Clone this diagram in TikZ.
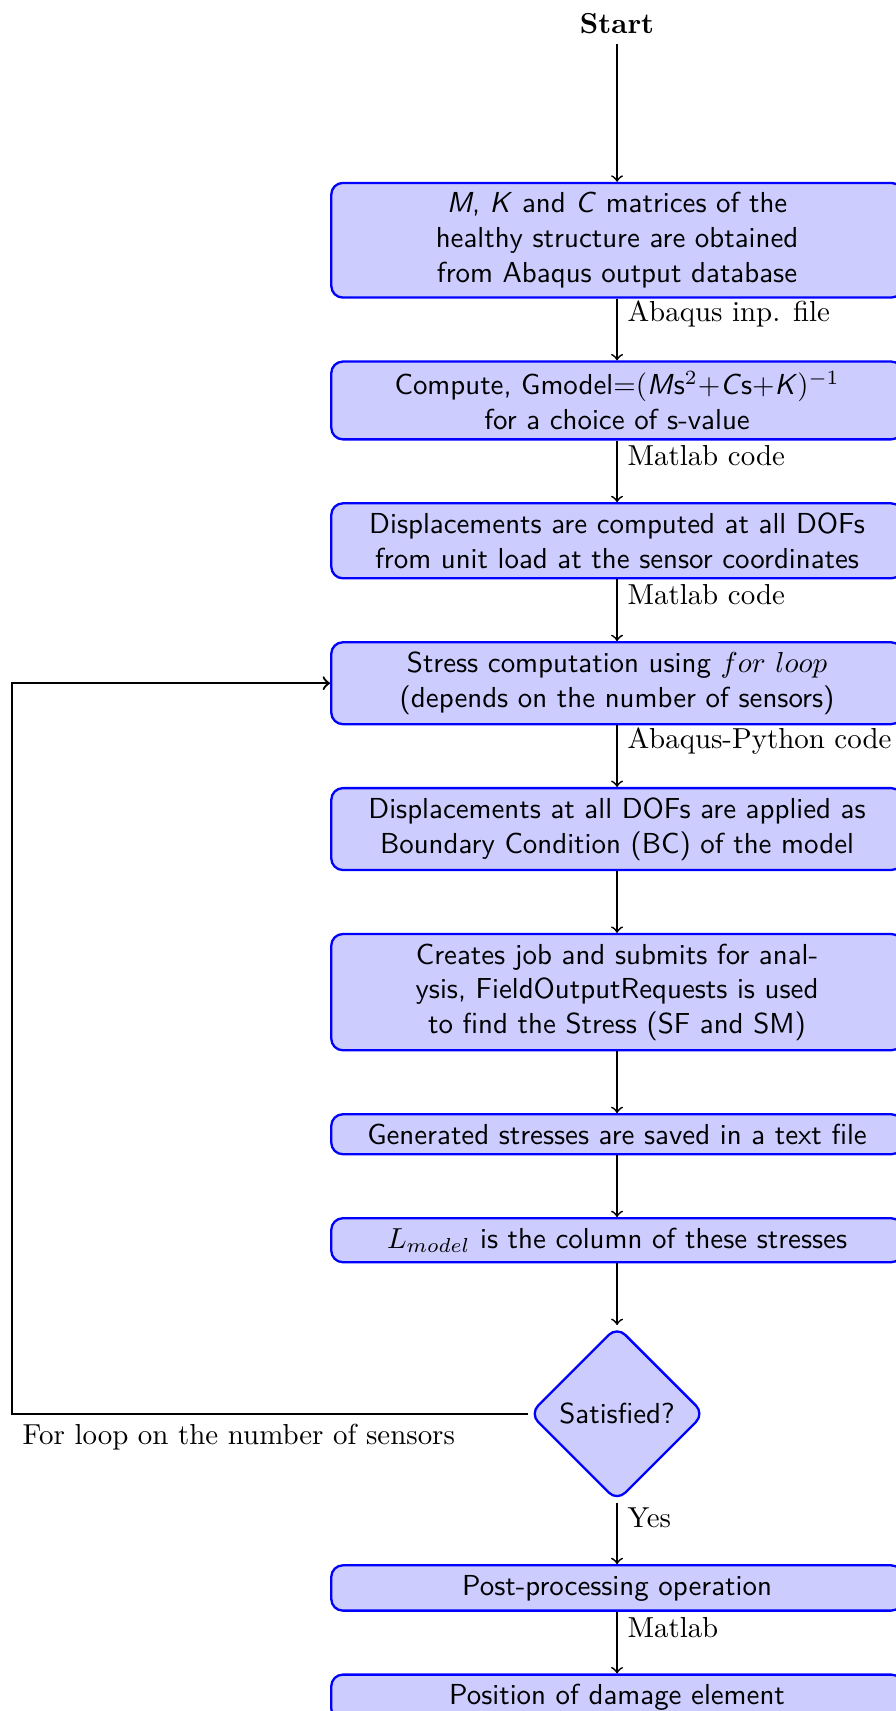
\documentclass[tikz,border=0pt]{standalone}
\usepackage[x11names]{xcolor}
\usepackage{amsmath,amssymb}
\usepackage{tikz}
\usetikzlibrary{arrows}
\usetikzlibrary{positioning,shapes.geometric}
\tikzset{
  process/.style={rectangle, rounded corners, draw=blue, thick, fill=blue!20,
    minimum width=6.95cm, align=center, font=\sffamily},
  decision/.style={diamond, aspect=1, rounded corners, draw=blue, thick,
    fill=blue!20, align=center, font=\sffamily},
}

\begin{document}
\begin{tikzpicture}[node distance=0.75cm]
    \useasboundingbox (-213.5pt,8.3pt) rectangle (96.5pt,-583.7pt);
    \node (start) {\textbf{Start}};
    \node[process, below=1.67cm of start] (matrices) {\textit{M}, \textit{K} and \textit{C} matrices of the\\ healthy structure are obtained\\ from Abaqus output database};
    \node[process, below=of matrices] (gmodel) {Compute, Gmodel$=$$($\textit{M}s$^2$$+$\textit{C}s$+$\textit{K}$)^{-1}$\\ for a choice of s-value};
    \node[process, below=of gmodel] (disp) {Displacements are computed at all DOFs\\ from unit load at the sensor coordinates};
    \node[process, below=of disp] (stress) {Stress computation using $for\ loop$\\ (depends on the number of sensors)};
    \node[process, below=of stress] (bc) {Displacements at all DOFs are applied as\\ Boundary Condition (BC) of the model};
    \node[process, below=of bc] (job) {Creates job and submits for anal-\\ysis, FieldOutputRequests is used\\ to find the Stress (SF and SM)};
    \node[process, below=of job] (saved) {Generated stresses are saved in a text file};
    \node[process, below=of saved] (lmodel) {$L_{model}$ is the column of these stresses};
    \node[decision, below=of lmodel] (satisfied) {Satisfied?};
    \node[process, below=of satisfied] (post) {Post-processing operation};
    \node[process, below=of post] (damage) {Position of damage element};
    \coordinate (loop) at ([xshift=-6.28cm]satisfied.west);

    \foreach \a/\b in {start/matrices, bc/job, job/saved, saved/lmodel, lmodel/satisfied}
        \draw[->, semithick] (\a) -- (\b);
    \foreach \a/\b/\t in {matrices/gmodel/Abaqus inp. file, gmodel/disp/Matlab code,
        disp/stress/Matlab code, stress/bc/Abaqus-Python code, satisfied/post/Yes, post/damage/Matlab}
        \draw[->, semithick] (\a) -- node[right, near start] {\t} (\b);
    \draw[->, thick] (satisfied.west) -- (loop) node[below right] {For loop on the number of sensors} |- (stress.west);
\end{tikzpicture}
\end{document}
